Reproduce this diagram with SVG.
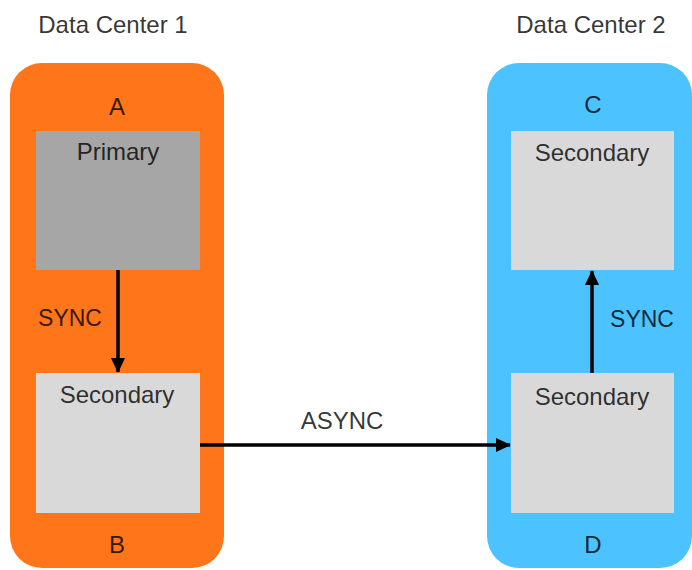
<svg xmlns="http://www.w3.org/2000/svg" width="692" height="570" viewBox="0 0 692 570">
<style>
text{font-family:"Liberation Sans",Arial,sans-serif;fill:#000;fill-opacity:0.8;text-anchor:middle}
.title{font-size:24px}
.lbl{font-size:24px}
.inner{font-size:24px}
.sync{font-size:23px}
.conn{stroke:#000;stroke-width:3.5;fill:none}
</style>
<defs>
<marker id="ah" markerUnits="userSpaceOnUse" markerWidth="16" markerHeight="16" viewBox="0 0 16 16" refX="14" refY="8" orient="auto">
<path d="M0,1 L15,8 L0,15 Z" fill="#000"/>
</marker>
</defs>
<rect x="0" y="0" width="692" height="570" fill="#fff"/>
<g id="dc1">
<text class="title" x="113" y="33">Data Center 1</text>
<rect x="10" y="63" width="214" height="505" rx="32" fill="#FF751A"/>
</g>
<g id="dc2">
<text class="title" x="591" y="33">Data Center 2</text>
<rect x="487" y="63" width="205" height="505" rx="32" fill="#4CC2FF"/>
</g>
<g id="nodeA">
<text class="lbl" x="117" y="115">A</text>
<rect x="36" y="131" width="164" height="139" fill="#A6A6A6"/>
<text class="inner" x="118" y="160">Primary</text>
</g>
<g id="nodeB">
<rect x="36" y="373" width="164" height="140" fill="#D9D9D9"/>
<text class="inner" x="117" y="403">Secondary</text>
<text class="lbl" x="117" y="553">B</text>
</g>
<g id="nodeC">
<text class="lbl" x="593" y="113">C</text>
<rect x="511" y="131" width="163" height="139" fill="#D9D9D9"/>
<text class="inner" x="592" y="161">Secondary</text>
</g>
<g id="nodeD">
<rect x="511" y="373" width="163" height="140" fill="#D9D9D9"/>
<text class="inner" x="592" y="405">Secondary</text>
<text class="lbl" x="593" y="553">D</text>
</g>
<g id="connectors">
<line class="conn" x1="118" y1="270" x2="118" y2="372" marker-end="url(#ah)"/>
<text class="sync" x="70" y="326">SYNC</text>
<line class="conn" x1="200" y1="445" x2="510" y2="445" marker-end="url(#ah)"/>
<text class="inner" x="342" y="429">ASYNC</text>
<line class="conn" x1="592" y1="373" x2="592" y2="271" marker-end="url(#ah)"/>
<text class="sync" x="642" y="327">SYNC</text>
</g>
</svg>
